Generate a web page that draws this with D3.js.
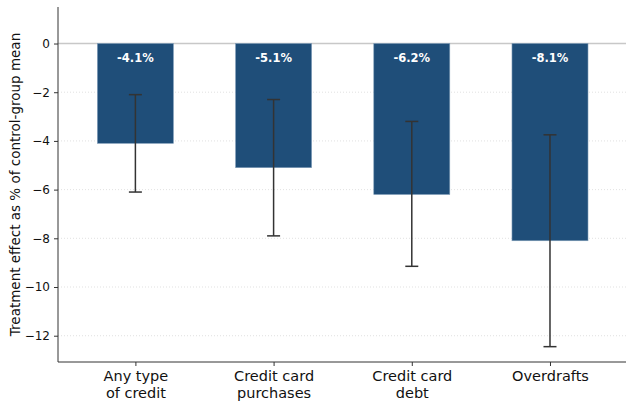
<!DOCTYPE html>
<html lang="en">
<head>
<meta charset="UTF-8">
<title>Treatment effects</title>
<script src="https://d3js.org/d3.v7.min.js"></script>
<style>
    body { margin: 0; background: #fff; }
    svg text { font-family: "DejaVu Sans", sans-serif; }
</style>
</head>
<body>
<svg id="canvas" width="634" height="408"></svg>
<script>
    // data
    const categories = [["Any type", "of credit"], ["Credit card", "purchases"], ["Credit card", "debt"], ["Overdrafts"]];
    const effects = [-4.1, -5.1, -6.2, -8.1];
    const ciLow = [-6.1, -7.9, -9.15, -12.45];
    const ciHigh = [-2.1, -2.3, -3.2, -3.75];
    const labels = ["-4.1%", "-5.1%", "-6.2%", "-8.1%"];
    const yTicks = [0, -2, -4, -6, -8, -10, -12];

    const svg = d3.select("#canvas");
    const plotLeft = 58, plotRight = 626, plotTop = 7, plotBottom = 362;

    const x = d3.scaleLinear().domain([-0.56, 3.55]).range([plotLeft, plotRight]);
    const y = d3.scaleLinear().domain([-13.08, 1.5]).range([plotBottom, plotTop]);
    const barW = x(0.55) - x(0);

    // dotted grid
    svg.append("g")
        .selectAll("line")
        .data(yTicks.filter(d => d !== 0))
        .enter().append("line")
        .attr("x1", plotLeft).attr("x2", plotRight)
        .attr("y1", d => y(d)).attr("y2", d => y(d))
        .attr("stroke", "#d9d9d9")
        .attr("stroke-width", 0.8)
        .attr("stroke-dasharray", "1,2");

    // zero line
    svg.append("line")
        .attr("x1", plotLeft).attr("x2", plotRight)
        .attr("y1", y(0)).attr("y2", y(0))
        .attr("stroke", "#c8c8c8")
        .attr("stroke-width", 1.5);

    // bars
    svg.append("g")
        .selectAll("rect")
        .data(effects)
        .enter().append("rect")
        .attr("x", (d, i) => x(i) - barW / 2)
        .attr("y", y(0))
        .attr("width", barW)
        .attr("height", d => y(d) - y(0))
        .attr("fill", "#1f4e79")
        .attr("stroke", "#7f9cb8")
        .attr("stroke-width", 0.6);

    // error bars
    const err = svg.append("g").attr("stroke", "#333").attr("stroke-width", 1.5);
    effects.forEach((d, i) => {
        const cx = x(i);
        err.append("line").attr("x1", cx).attr("x2", cx).attr("y1", y(ciHigh[i])).attr("y2", y(ciLow[i]));
        err.append("line").attr("x1", cx - 6.5).attr("x2", cx + 6.5).attr("y1", y(ciHigh[i])).attr("y2", y(ciHigh[i]));
        err.append("line").attr("x1", cx - 6.5).attr("x2", cx + 6.5).attr("y1", y(ciLow[i])).attr("y2", y(ciLow[i]));
    });

    // value labels
    svg.append("g")
        .selectAll("text")
        .data(labels)
        .enter().append("text")
        .attr("x", (d, i) => x(i))
        .attr("y", y(0) + 18)
        .attr("text-anchor", "middle")
        .attr("fill", "#fff")
        .attr("font-weight", "bold")
        .attr("font-size", "11.5px")
        .text(d => d);

    // y axis
    const yAxis = svg.append("g")
        .attr("transform", `translate(${plotLeft},0)`)
        .call(d3.axisLeft(y).tickValues(yTicks).tickSize(4).tickPadding(4)
            .tickFormat(d => d === 0 ? "0" : "\u2212" + Math.abs(d)));
    yAxis.select(".domain").attr("d", `M0,${plotTop}V${plotBottom}`).attr("stroke", "#333");
    yAxis.selectAll(".tick line").attr("stroke", "#333");
    yAxis.selectAll(".tick text").attr("font-size", "12px").attr("fill", "#111")
        .style("font-family", "DejaVu Sans, sans-serif");

    // x axis
    const xAxis = svg.append("g")
        .attr("transform", `translate(0,${plotBottom})`)
        .call(d3.axisBottom(x).tickValues(d3.range(categories.length)).tickSize(4).tickFormat(""));
    xAxis.select(".domain").attr("d", `M${plotLeft},0H${plotRight}`).attr("stroke", "#333");
    xAxis.selectAll(".tick line").attr("stroke", "#333");
    xAxis.selectAll(".tick").each(function (d) {
        const t = d3.select(this).append("text")
            .attr("fill", "#111")
            .attr("text-anchor", "middle")
            .attr("font-size", "14.5px")
            .style("font-family", "DejaVu Sans, sans-serif");
        categories[d].forEach((line, j) => {
            t.append("tspan").attr("x", 0).attr("y", 19 + j * 17).text(line);
        });
    });

    // y label
    svg.append("text")
        .attr("transform", `translate(20,${(plotTop + plotBottom) / 2}) rotate(-90)`)
        .attr("text-anchor", "middle")
        .attr("font-size", "13.5px")
        .attr("fill", "#111")
        .text("Treatment effect as % of control-group mean");
</script>
</body>
</html>
